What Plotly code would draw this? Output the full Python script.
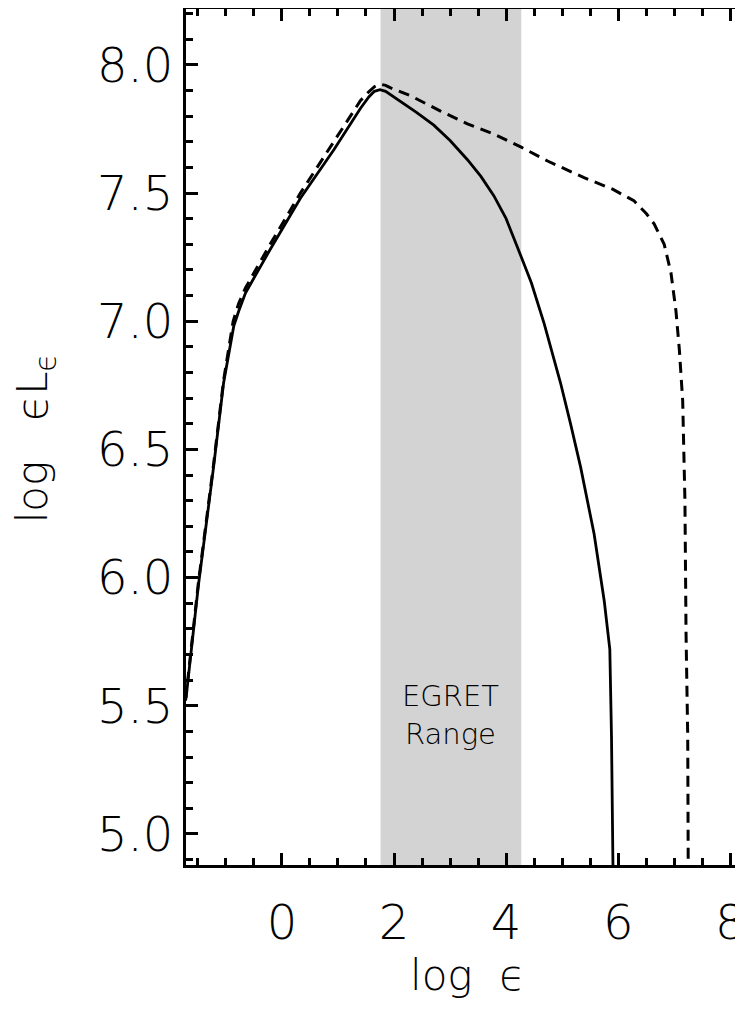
import plotly.graph_objects as go

# Solid curve
solid_x = [-1.71, -1.49, -1.22, -1.04, -0.86, -0.77, -0.65, -0.21, 0.33, 0.93, 1.40, 1.55, 1.65,
           1.75, 1.85, 2.00, 2.12, 2.40, 2.71, 3.00, 3.31, 3.55, 3.78, 4.00, 4.20, 4.45, 4.68,
           4.97, 5.15, 5.33, 5.57, 5.75, 5.85, 5.88, 5.91]
solid_y = [5.53, 5.97, 6.43, 6.76, 6.98, 7.04, 7.11, 7.28, 7.48, 7.67, 7.83, 7.875, 7.897,
           7.903, 7.897, 7.875, 7.855, 7.815, 7.765, 7.705, 7.63, 7.565, 7.49, 7.40, 7.29, 7.15,
           6.99, 6.76, 6.60, 6.43, 6.17, 5.91, 5.72, 5.38, 4.80]

# Dashed curve
dash_x = [-1.72, -1.49, -1.22, -1.04, -0.87, -0.77, -0.65, -0.21, 0.33, 0.93, 1.40, 1.55, 1.65,
          1.75, 1.85, 1.94, 2.29, 2.83, 3.31, 3.78, 4.26, 4.74, 5.39, 5.90, 6.28, 6.50, 6.64,
          6.82, 6.94, 7.03, 7.09, 7.15, 7.19, 7.21, 7.24, 7.25]
dash_y = [5.52, 5.98, 6.44, 6.77, 7.00, 7.07, 7.13, 7.30, 7.50, 7.70, 7.86, 7.895, 7.915,
          7.925, 7.92, 7.91, 7.88, 7.82, 7.77, 7.73, 7.68, 7.625, 7.56, 7.515, 7.47, 7.42, 7.38,
          7.30, 7.19, 7.04, 6.89, 6.69, 6.30, 5.78, 5.38, 4.80]

egret_range = [1.76, 4.27]
x_ticks = [0, 2, 4, 6, 8]
y_ticks = [5.0, 5.5, 6.0, 6.5, 7.0, 7.5, 8.0]
x_range = [-1.711, 8.333]
y_range = [4.879, 8.218]

FONT = "DejaVu Sans"
W = 200

fig = go.Figure()
fig.add_trace(go.Scatter(x=dash_x, y=dash_y, mode="lines",
                         line=dict(color="black", width=3, dash="11px,7px"),
                         showlegend=False, hoverinfo="skip"))
fig.add_trace(go.Scatter(x=solid_x, y=solid_y, mode="lines",
                         line=dict(color="black", width=2.8),
                         showlegend=False, hoverinfo="skip"))

fig.add_shape(type="rect", xref="x", yref="paper", x0=egret_range[0], x1=egret_range[1],
              y0=0, y1=1, fillcolor="#d3d3d3", line=dict(width=0), layer="below")

fig.add_annotation(x=sum(egret_range) / 2, y=5.465, xref="x", yref="y",
                   text="EGRET<br>Range", showarrow=False,
                   font=dict(family=FONT, size=29, color="black", weight=W),
                   align="center")

# axis titles
fig.add_annotation(x=0.5, y=-0.129, xref="paper", yref="paper", text="log  ϵ",
                   showarrow=False, xanchor="center", yanchor="middle",
                   font=dict(family=FONT, size=42, color="black", weight=W))
fig.add_annotation(x=-0.268, y=0.4986, xref="paper", yref="paper",
                   text="log   ϵL<sub>ϵ</sub>",
                   showarrow=False, xanchor="center", yanchor="middle", textangle=-90,
                   font=dict(family=FONT, size=42, color="black", weight=W))

fig.update_layout(
    width=743, height=1015,
    margin=dict(l=177.5, r=2, t=1, b=157.5, autoexpand=False),
    plot_bgcolor="white", paper_bgcolor="white",
    xaxis=dict(range=x_range, tickmode="array", tickvals=x_ticks,
               ticktext=[str(v) for v in x_ticks], automargin=False,
               ticklabeloverflow="allow",
               ticks="inside", ticklen=12, tickwidth=2.5, tickcolor="black",
               showline=True, linewidth=3, linecolor="black", mirror="ticks",
               showgrid=False, zeroline=False,
               minor=dict(dtick=0.5, tick0=0, ticks="inside", ticklen=7, tickwidth=2.5,
                          tickcolor="black", showgrid=False),
               tickfont=dict(family=FONT, size=48, color="black", weight=W),
               ticklabelstandoff=13),
    yaxis=dict(range=y_range, tickmode="array", tickvals=y_ticks,
               ticktext=[f"{v:.1f}" for v in y_ticks], automargin=False,
               ticklabeloverflow="allow",
               ticks="inside", ticklen=12, tickwidth=2.5, tickcolor="black",
               showline=True, linewidth=3, linecolor="black", mirror="ticks",
               showgrid=False, zeroline=False,
               minor=dict(dtick=0.1, tick0=0, ticks="inside", ticklen=7, tickwidth=2.5,
                          tickcolor="black", showgrid=False),
               tickfont=dict(family=FONT, size=48, color="black", weight=W),
               ticklabelstandoff=0),
)

fig.write_html("out.html")
